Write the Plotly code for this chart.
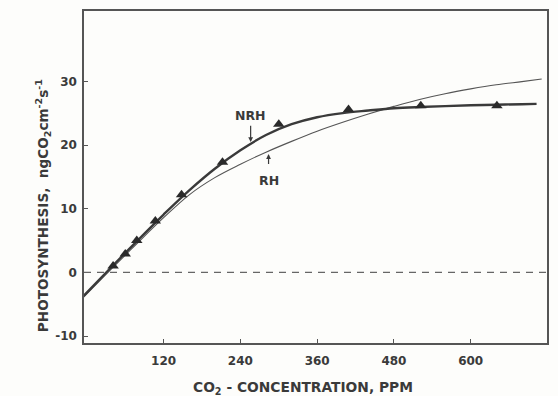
import plotly.graph_objects as go

# Measured data (triangles)
obs_x = [41, 60, 78, 107, 148, 212, 300, 409, 522, 641]
obs_y = [1.0, 2.9, 5.0, 8.1, 12.2, 17.3, 23.3, 25.6, 26.2, 26.2]

# NRH curve
nrh_x = [-5, 40, 80, 120, 160, 200, 240, 280, 320, 360, 400, 440, 480, 520, 560, 600, 640, 680, 703]
nrh_y = [-3.7, 1.0, 5.1, 9.1, 12.9, 16.3, 19.2, 21.6, 23.3, 24.4, 25.05, 25.45, 25.8, 26.0, 26.15, 26.27, 26.37, 26.45, 26.5]

# RH curve
rh_x = [-5, 40, 80, 120, 160, 200, 240, 280, 320, 360, 400, 440, 480, 520, 560, 600, 640, 680, 711]
rh_y = [-3.9, 0.7, 4.7, 8.6, 12.2, 14.9, 17.0, 18.9, 20.6, 22.2, 23.6, 24.9, 26.1, 27.2, 28.1, 28.85, 29.5, 30.0, 30.4]

x_ticks = [120, 240, 360, 480, 600]
y_ticks = [-10, 0, 10, 20, 30]

ink = "#3a3a3a"
font_fam = "DejaVu Sans"

fig = go.Figure()
fig.add_trace(go.Scatter(x=rh_x, y=rh_y, mode="lines", line=dict(color="#555555", width=1.1, shape="spline"),
                         hoverinfo="skip", showlegend=False))
fig.add_trace(go.Scatter(x=nrh_x, y=nrh_y, mode="lines", line=dict(color=ink, width=2.4, shape="spline"),
                         hoverinfo="skip", showlegend=False))
fig.add_trace(go.Scatter(x=obs_x, y=obs_y, mode="markers",
                         marker=dict(symbol="triangle-up", size=10, color="#2a2a2a"), showlegend=False))

fig.add_shape(type="line", xref="paper", x0=0, x1=1, yref="y", y0=0, y1=0,
              line=dict(color="#666666", width=1.2, dash="7px,6px"))

# Curve labels with arrows
fig.add_annotation(x=256, y=24.6, text="NRH", showarrow=False,
                   font=dict(family=font_fam, size=12.5, color=ink, weight="bold"))
fig.add_annotation(x=256, y=20.5, ax=256, ay=23.3, axref="x", ayref="y", text="",
                   showarrow=True, arrowhead=2, arrowsize=0.8, arrowwidth=1.2, arrowcolor=ink)
fig.add_annotation(x=284, y=14.4, text="RH", showarrow=False,
                   font=dict(family=font_fam, size=12.5, color=ink, weight="bold"))
fig.add_annotation(x=284, y=18.6, ax=284, ay=16.8, axref="x", ayref="y", text="",
                   showarrow=True, arrowhead=2, arrowsize=0.8, arrowwidth=1.2, arrowcolor=ink)

# Axis titles
fig.add_annotation(xref="paper", yref="paper", x=0.472, y=-0.135, yanchor="middle",
                   text="CO<sub>2</sub> - CONCENTRATION, PPM", showarrow=False,
                   font=dict(family=font_fam, size=13.8, color=ink, weight="bold"))
fig.add_annotation(xref="paper", yref="paper", x=-0.088, y=0.413, xanchor="center", yanchor="middle",
                   textangle=-90,
                   text="PHOTOSYNTHESIS,  ngCO<sub>2</sub>cm<sup>-2</sup>s<sup>-1</sup>", showarrow=False,
                   font=dict(family=font_fam, size=13.6, color=ink, weight="bold"))

axis_common = dict(showgrid=False, zeroline=False, showline=True, linecolor="#555555", linewidth=1.5,
                   mirror=True, ticks="inside", ticklen=4, tickwidth=1.2, tickcolor="#555555",
                   tickfont=dict(family=font_fam, size=12, color=ink, weight="bold"))

fig.update_xaxes(range=[-4.5, 719.3], tickvals=x_ticks, ticktext=[str(v) for v in x_ticks],
                 ticklabelstandoff=6, **axis_common)
fig.update_yaxes(range=[-11.1, 41.1], tickvals=y_ticks, ticktext=[str(v) for v in y_ticks],
                 ticklabelstandoff=3, **axis_common)

fig.update_layout(width=558, height=396, margin=dict(l=84, r=10, t=9, b=53),
                  paper_bgcolor="#fdfdfb", plot_bgcolor="#fdfdfb")

fig.write_html("out.html", config={"displayModeBar": False},
               post_script="document.body.style.margin='0';document.body.style.overflow='hidden';")
